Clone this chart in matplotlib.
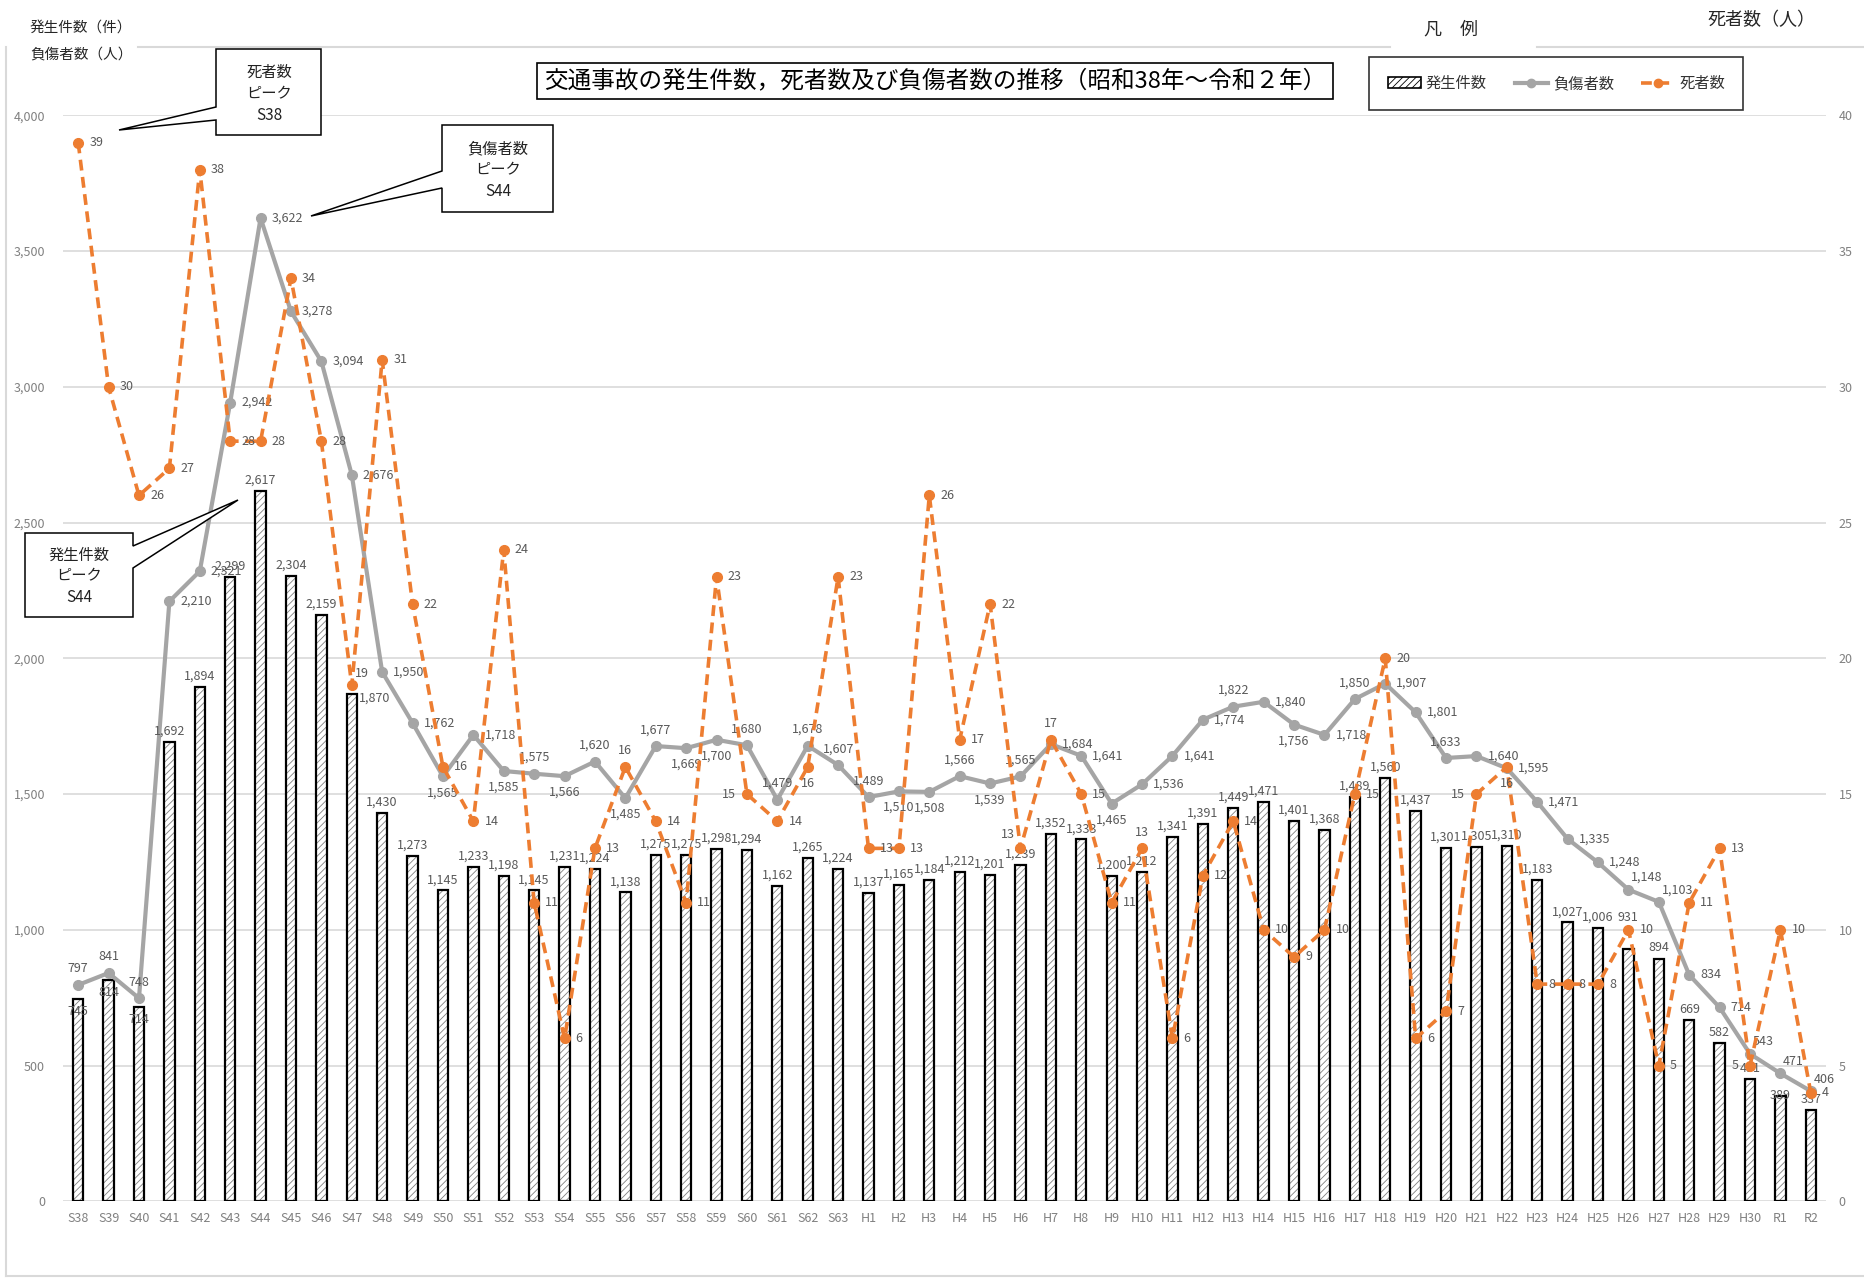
import matplotlib
matplotlib.use('Agg')
import matplotlib.pyplot as plt
from matplotlib.patches import Polygon, Patch
from matplotlib.lines import Line2D
from matplotlib.ticker import FuncFormatter

plt.rcParams['font.family'] = ['Noto Sans CJK JP', 'DejaVu Sans']
plt.rcParams['hatch.linewidth'] = 0.6

# ---------------- data ----------------
years = ['S38', 'S39', 'S40', 'S41', 'S42', 'S43', 'S44', 'S45', 'S46', 'S47', 'S48', 'S49',
         'S50', 'S51', 'S52', 'S53', 'S54', 'S55', 'S56', 'S57', 'S58', 'S59', 'S60', 'S61',
         'S62', 'S63', 'H1', 'H2', 'H3', 'H4', 'H5', 'H6', 'H7', 'H8', 'H9', 'H10', 'H11',
         'H12', 'H13', 'H14', 'H15', 'H16', 'H17', 'H18', 'H19', 'H20', 'H21', 'H22', 'H23',
         'H24', 'H25', 'H26', 'H27', 'H28', 'H29', 'H30', 'R1', 'R2']
accidents = [745, 814, 714, 1692, 1894, 2299, 2617, 2304, 2159, 1870, 1430, 1273,
             1145, 1233, 1198, 1145, 1231, 1224, 1138, 1275, 1275, 1298, 1294, 1162,
             1265, 1224, 1137, 1165, 1184, 1212, 1201, 1239, 1352, 1333, 1200, 1212, 1341,
             1391, 1449, 1471, 1401, 1368, 1489, 1560, 1437, 1301, 1305, 1310, 1183,
             1027, 1006, 931, 894, 669, 582, 451, 389, 337]
injured = [797, 841, 748, 2210, 2321, 2942, 3622, 3278, 3094, 2676, 1950, 1762,
           1565, 1718, 1585, 1575, 1566, 1620, 1485, 1677, 1669, 1700, 1680, 1479,
           1678, 1607, 1489, 1510, 1508, 1566, 1539, 1565, 1684, 1641, 1465, 1536, 1641,
           1774, 1822, 1840, 1756, 1718, 1850, 1907, 1801, 1633, 1640, 1595, 1471,
           1335, 1248, 1148, 1103, 834, 714, 543, 471, 406]
deaths = [39, 30, 26, 27, 38, 28, 28, 34, 28, 19, 31, 22,
          16, 14, 24, 11, 6, 13, 16, 14, 11, 23, 15, 14,
          16, 23, 13, 13, 26, 17, 22, 13, 17, 15, 11, 13, 6,
          12, 14, 10, 9, 10, 15, 20, 6, 7, 15, 16, 8,
          8, 8, 10, 5, 11, 13, 5, 10, 4]

# label placement codes (style only)
inj_pos = ['a', 'a', 'a', 'r', 'r', 'r', 'r', 'r', 'r', 'r', 'r', 'r', 'b', 'r', 'b', 'a',
           'b', 'a', 'b', 'a', 'b', 'b', 'a', 'a', 'a', 'a', 'a', 'b', 'b', 'a', 'b', 'a',
           'r', 'r', 'b', 'r', 'r', 'r', 'a', 'r', 'b', 'r', 'a', 'r', 'r', 'a', 'r', 'r',
           'r', 'r', 'r', 'ra', 'ra', 'r', 'r', 'ra', 'ra', 'ra']
dth_pos = ['r'] * 9 + ['ra'] + ['r'] * 8 + [
    'a', 'r', 'r', 'r', 'l', 'r', 'b', 'r', 'r', 'r', 'r', 'r', 'r', 'la', 'a', 'r', 'r',
    'a', 'r', 'r', 'r', 'r', 'r', 'r', 'r', 'r', 'r', 'r', 'l', 'b', 'r', 'r', 'r', 'r',
    'r', 'r', 'r', 'l', 'r', 'r']
bar_pos = ['i', 'i', 'i'] + ['a'] * 6 + ['r'] + ['a'] * 41 + ['h', 'a', 'a', 'a', 'a', 'c', 'a', 'c']

# ---------------- figure ----------------
W, H = 1865, 1279
fig = plt.figure(figsize=(W / 100, H / 100), dpi=100)
L, R, T, B = 63, 1826, 115.4, 1201.3
ax = fig.add_axes([L / W, 1 - B / H, (R - L) / W, (B - T) / H])
x = list(range(len(years)))

ax.bar(x, accidents, width=0.34, color='white', edgecolor='#808080', hatch='/////',
       linewidth=0, zorder=2)
ax.bar(x, accidents, width=0.34, fill=False, edgecolor='black', linewidth=1.6, zorder=3)
ax.plot(x, injured, color='#a5a5a5', lw=3, marker='o', ms=7, zorder=4)

ax.set_xlim(-0.5, len(years) - 0.5)
ax.set_ylim(0, 4000)
ax.set_yticks(range(0, 4001, 500))
ax.yaxis.set_major_formatter(FuncFormatter(lambda v, p: f'{int(v):,}'))
ax.grid(axis='y', color='#d9d9d9', lw=1.2, zorder=0)
ax.set_axisbelow(True)
for s in ax.spines.values():
    s.set_visible(False)
ax.set_xticks(x)
ax.set_xticklabels(years)
ax.tick_params(length=0, colors='#808080', labelsize=9)
ax.tick_params(axis='x', pad=8)
ax.tick_params(axis='y', pad=13)

ax2 = ax.twinx()
ax2.plot(x, deaths, color='#ed7d31', lw=2.6, ls=(0, (3, 1.8)), marker='o', ms=7, zorder=5)
ax2.set_ylim(0, 40)
ax2.set_yticks(range(0, 41, 5))
for s in ax2.spines.values():
    s.set_visible(False)
ax2.tick_params(length=0, colors='#808080', labelsize=9, pad=9)

lab_col = '#595959'
lab_fs = 9
offs = {'r': ((8, 0), 'left', 'center'), 'l': ((-8, 0), 'right', 'center'),
        'a': ((0, 7), 'center', 'bottom'), 'b': ((0, -7), 'center', 'top'),
        'ra': ((2, 4), 'left', 'bottom'), 'la': ((-4, 5), 'right', 'bottom')}
for xi, v, p in zip(x, injured, inj_pos):
    (dx, dy), ha, va = offs[p]
    ax.annotate(f'{v:,}', (xi, v), xytext=(dx, dy), textcoords='offset points',
                ha=ha, va=va, fontsize=lab_fs, color=lab_col, zorder=6)
for xi, v, p in zip(x, deaths, dth_pos):
    (dx, dy), ha, va = offs[p]
    ax2.annotate(f'{v:,}', (xi, v), xytext=(dx, dy), textcoords='offset points',
                 ha=ha, va=va, fontsize=lab_fs, color=lab_col, zorder=6)
boffs = {'a': ((0, 3), 'center', 'bottom'), 'i': ((0, -4), 'center', 'top'),
         'c': ((0, 0), 'center', 'center'), 'h': ((0, 18), 'center', 'bottom'),
         'r': ((5, -3), 'left', 'center')}
for xi, v, p in zip(x, accidents, bar_pos):
    (dx, dy), ha, va = boffs[p]
    ax.annotate(f'{v:,}', (xi, v), xytext=(dx, dy), textcoords='offset points',
                ha=ha, va=va, fontsize=lab_fs, color=lab_col, zorder=6)

# ---------------- overlay (pixel coords) ----------------
ov = fig.add_axes([0, 0, 1, 1])
ov.set_xlim(0, W)
ov.set_ylim(H, 0)
ov.axis('off')
ov.patch.set_alpha(0)

bc = '#d9d9d9'
ov.plot([138, 1390], [47, 47], color=bc, lw=1.5)
ov.plot([1537, W], [47, 47], color=bc, lw=1.5)
ov.plot([5.5, 5.5], [47, 1276], color=bc, lw=1.5)
ov.plot([5.5, W], [1276, 1276], color=bc, lw=1.5)

ov.text(30, 28, '発生件数（件）', fontsize=10.5, color='#262626', ha='left', va='center')
ov.text(30, 55, '負傷者数（人）', fontsize=10.5, color='#262626', ha='left', va='center')
ov.text(1761, 20, '死者数（人）', fontsize=13, color='#262626', ha='center', va='center')
ov.text(1451, 30, '凡　例', fontsize=13, color='#262626', ha='center', va='center')

ov.text(935, 81, '交通事故の発生件数，死者数及び負傷者数の推移（昭和38年～令和２年）',
        fontsize=17, color='black', ha='center', va='center',
        bbox=dict(boxstyle='square,pad=0.28', fc='white', ec='black', lw=1.2))

callouts = [
    ([(216, 49), (321, 49), (321, 135), (216, 135), (216, 120), (119, 130), (216, 107)],
     269, [72, 94, 116], ['死者数', 'ピーク', 'S38']),
    ([(442, 125), (553, 125), (553, 212), (442, 212), (442, 188), (311, 216), (442, 171)],
     498, [149, 170, 192], ['負傷者数', 'ピーク', 'S44']),
    ([(25, 533), (133, 533), (133, 546), (238, 500), (133, 568), (133, 617), (25, 617)],
     79, [555, 576, 597], ['発生件数', 'ピーク', 'S44']),
]
for pts, cx, ys, lines in callouts:
    ov.add_patch(Polygon(pts, closed=True, fc='white', ec='black', lw=1.1, zorder=5))
    for yy, t in zip(ys, lines):
        ov.text(cx, yy, t, fontsize=11, color='#222222', ha='center', va='center', zorder=6)

handles = [
    Patch(facecolor='white', edgecolor='black', hatch='/////', lw=1.2),
    Line2D([], [], color='#a5a5a5', lw=3, marker='o', ms=6),
    Line2D([], [], color='#ed7d31', lw=2.6, ls=(0, (3, 1.8)), marker='o', ms=6),
]
leg = fig.legend(handles, ['発生件数', '負傷者数', '死者数'], ncol=3, loc='center',
                 bbox_to_anchor=(1556.5 / W, 1 - 83.5 / H), fontsize=11, frameon=True,
                 fancybox=False, edgecolor='black', borderpad=1.2, handlelength=2.2,
                 handletextpad=0.3, columnspacing=1.8)
leg.get_frame().set_linewidth(1.2)
for t in leg.get_texts():
    t.set_color('#333333')

fig.savefig('out.png', dpi=100, facecolor='white')
